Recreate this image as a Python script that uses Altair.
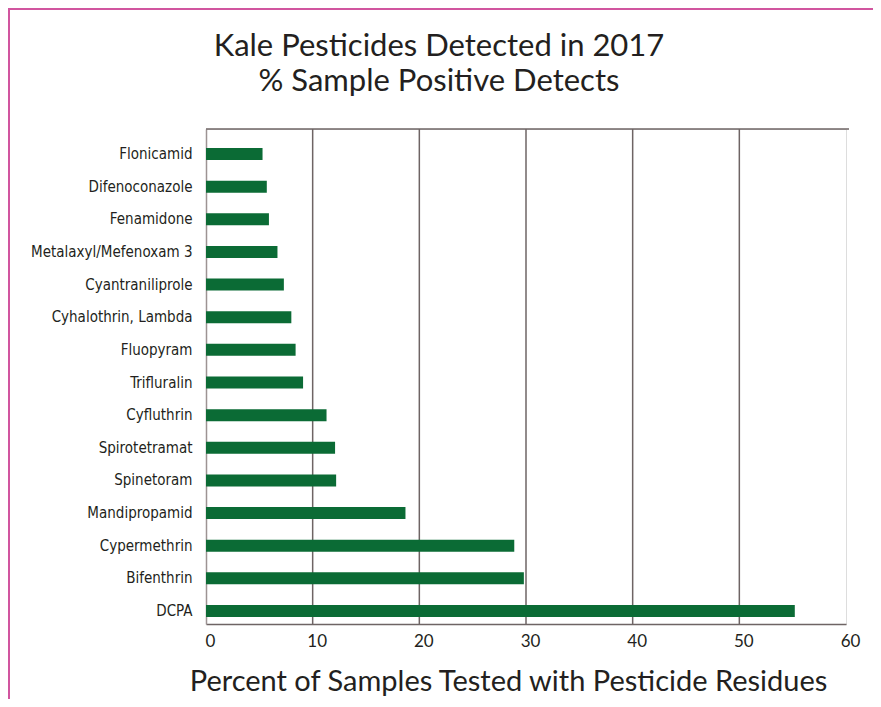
import altair as alt
import pandas as pd

# ---- data ----
pesticides = [
    "Flonicamid", "Difenoconazole", "Fenamidone", "Metalaxyl/Mefenoxam 3",
    "Cyantraniliprole", "Cyhalothrin, Lambda", "Fluopyram", "Trifluralin",
    "Cyfluthrin", "Spirotetramat", "Spinetoram", "Mandipropamid",
    "Cypermethrin", "Bifenthrin", "DCPA",
]
percents = [5.3, 5.7, 5.9, 6.7, 7.3, 8.0, 8.4, 9.1, 11.3, 12.1, 12.2, 18.7, 28.9, 29.8, 55.2]
tick_values = [0, 10, 20, 30, 40, 50, 60]
grid_values = [10, 20, 30, 40, 50]

title_lines = ["Kale Pesticides Detected in 2017", "% Sample Positive Detects"]
x_title = "Percent of Samples Tested with Pesticide Residues"

df = pd.DataFrame({"pesticide": pesticides, "percent": percents})
gdf = pd.DataFrame({"value": grid_values})
one = pd.DataFrame({"a": [0]})

W, H = 640, 495
PAD = {"left": 198, "top": 121, "right": 27, "bottom": 75}

TEXT = "#231f20"
GRID = "#6e6464"
GREEN = "#0b6b35"
PINK = "#d1559f"
GEO = "Lato"
NARROW = "DejaVu Sans Condensed, Roboto Condensed, Arial Narrow, sans-serif"

xscale = alt.Scale(domain=[0, 60], nice=False, zero=True)

grid = alt.Chart(gdf).mark_rule(color=GRID, strokeWidth=1.5).encode(
    x=alt.X("value:Q", scale=xscale)
)

top_line = alt.Chart(one).mark_rule(color=GRID, strokeWidth=1.5).encode(
    x=alt.value(0), x2=alt.value(643), y=alt.value(0)
)

bars = alt.Chart(df).mark_bar(size=12, color=GREEN).encode(
    x=alt.X(
        "percent:Q",
        scale=xscale,
        axis=alt.Axis(
            values=tick_values,
            title=x_title,
            grid=False,
            ticks=False,
            domainColor=GRID,
            domainWidth=1.5,
            labelFont=GEO,
            labelFontSize=17,
            labelColor=TEXT,
            labelOffset=4,
            labelPadding=9,
            labelFlush=False,
            titleFont=GEO,
            titleFontSize=29,
            titleFontWeight="normal",
            titleColor=TEXT,
            titleX=302,
            titleY=66,
            titleAlign="center",
            titleBaseline="alphabetic",
        ),
    ),
    y=alt.Y(
        "pesticide:N",
        sort=pesticides,
        scale=alt.Scale(paddingInner=0.2, paddingOuter=0.184, align=1),
        axis=alt.Axis(
            title=None,
            ticks=False,
            domainColor="#9d9393",
            domainWidth=1.5,
            labelFont=NARROW,
            labelFontSize=15,
            labelColor=TEXT,
            labelPadding=14,
        ),
    ),
)

title = alt.Chart(one).mark_text(
    font=GEO, fontSize=31, color=TEXT, align="center", baseline="alphabetic", lineHeight=35
).encode(
    x=alt.value(233), y=alt.value(-73), text=alt.value(title_lines)
)

pink_left = alt.Chart(one).mark_rule(color=PINK, strokeWidth=2).encode(
    x=alt.value(-197), y=alt.value(-121), y2=alt.value(570)
)
pink_top = alt.Chart(one).mark_rule(color=PINK, strokeWidth=2).encode(
    x=alt.value(-198), x2=alt.value(667), y=alt.value(-120)
)

chart = (
    alt.layer(grid, top_line, bars, title, pink_left, pink_top)
    .properties(
        width=W,
        height=H,
        padding=PAD,
        autosize=alt.AutoSizeParams(type="none"),
    )
    .configure_view(stroke=None)
    .configure(background="white")
)

chart.save("out.html", embed_options={"renderer": "svg", "actions": False})
